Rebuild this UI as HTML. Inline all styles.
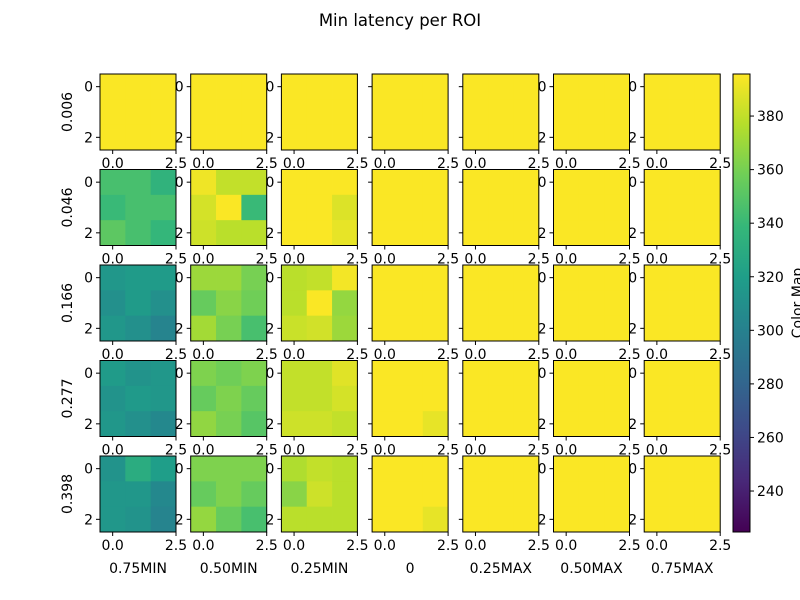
<!DOCTYPE html>
<html><head><meta charset="utf-8"><style>
body{margin:0;background:#fff;}
svg{display:block;font-family:"DejaVu Sans","Liberation Sans",sans-serif;}
</style></head><body>
<svg id="c" width="800" height="600" viewBox="0 0 800 600"></svg>
<script>
const rowLabels=["0.006","0.046","0.166","0.277","0.398"];
const colLabels=["0.75MIN","0.50MIN","0.25MIN","0","0.25MAX","0.50MAX","0.75MAX"];
const Y=395;
const flat=[[Y,Y,Y],[Y,Y,Y],[Y,Y,Y]];
const row0=[flat,flat,flat,flat,flat,flat,flat];
const row1=[[[345,345,335],[340,345,345],[352,345,338]],[[392,380,380],[385,395,340],[383,378,378]],[[395,395,395],[395,395,387],[395,395,390]],flat,flat,flat,flat];
const row2=[[[315,318,318],[310,318,310],[315,310,302]],[[370,370,360],[355,365,358],[372,360,345]],[[378,380,393],[378,395,368],[382,384,370]],flat,flat,flat,flat];
const row3=[[[318,312,315],[312,317,315],[315,310,305]],[[362,358,362],[355,362,355],[367,360,350]],[[380,380,388],[380,380,385],[383,383,380]],[[395,395,395],[395,395,395],[395,395,390]],flat,flat,flat];
const row4=[[[312,330,320],[315,315,305],[315,312,302]],[[362,362,362],[355,362,355],[368,355,345]],[[375,380,378],[365,383,378],[378,378,378]],[[395,395,395],[395,395,395],[395,395,390]],flat,flat,flat];
const grid=[row0,row1,row2,row3,row4];
const vmin=224.7, vmax=395.7;
const cbTicks=[240,260,280,300,320,340,360,380];
const V=[[68,1,84],[72,40,120],[62,74,137],[49,104,142],[38,130,142],[31,158,137],[53,183,121],[110,206,88],[181,222,43],[253,231,37]];
function viridis(v){let t=Math.max(0,Math.min(1,(v-vmin)/(vmax-vmin)))*(V.length-1);let i=Math.min(V.length-2,Math.floor(t)),f=t-i;const c=V[i].map((a,k)=>Math.round(a+(V[i+1][k]-a)*f));return `rgb(${c})`;}
const svg=document.getElementById('c');const NS='http://www.w3.org/2000/svg';
function el(tag,attrs,parent){const e=document.createElementNS(NS,tag);for(const k in attrs)e.setAttribute(k,attrs[k]);(parent||svg).appendChild(e);return e;}
const colX=c=>100+c*90.7, rowY=r=>74+r*95.5, W=76, H=76;
const cbY=v=>532-(v-vmin)/(vmax-vmin)*458;
let t=el('text',{x:400,y:26,'text-anchor':'middle','font-size':16.5});t.textContent='Min latency per ROI';


const showY=[true,true,true,false,false,true,true];
for(let r=0;r<5;r++){for(let c=0;c<7;c++){
 const g=el('g',{});
 
 
 const x0=colX(c),y0=rowY(r),cw=W/3,ch=H/3;
 for(let i=0;i<3;i++)for(let j=0;j<3;j++){
  const cell=el('rect',{x:x0+j*cw,y:y0+i*ch,width:cw+0.4,height:ch+0.4,fill:viridis(grid[r][c][i][j])},g);
  
  
 }
 el('rect',{x:x0,y:y0,width:W,height:H,fill:'none',stroke:'#000','stroke-width':1},g);
 [[0,'0.0'],[2.5,'2.5']].forEach(([v,l])=>{const tx=x0+(v+0.5)*cw;el('line',{x1:tx,y1:y0+H,x2:tx,y2:y0+H+4,stroke:'#000'},g);const tt=el('text',{x:tx,y:y0+H+18,'text-anchor':'middle','font-size':14},g);tt.textContent=l;});
 [[0,'0'],[2,'2']].forEach(([v,l])=>{const ty=y0+(v+0.5)*ch;el('line',{x1:x0-4,y1:ty,x2:x0,y2:ty,stroke:'#000'},g);if(showY[c]){const tt=el('text',{x:x0-7,y:ty+5,'text-anchor':'end','font-size':14},g);tt.textContent=l;}});
}
 const rl=el('text',{x:0,y:0,'text-anchor':'middle','font-size':14,transform:`translate(72,${rowY(r)+H/2}) rotate(-90)`});rl.textContent=rowLabels[r];
 
 
}
for(let c=0;c<7;c++){const cl=el('text',{x:colX(c)+W/2,y:573,'text-anchor':'middle','font-size':14});cl.textContent=colLabels[c];
 
 }
const defs=el('defs',{});const lg=el('linearGradient',{id:'vg',x1:0,y1:1,x2:0,y2:0},defs);
V.forEach((c,i)=>el('stop',{offset:i/(V.length-1),'stop-color':`rgb(${c})`},lg));
const cb=el('rect',{x:733,y:74,width:17,height:458,fill:'url(#vg)',stroke:'#000','stroke-width':1});


cbTicks.forEach(v=>{const y=cbY(v);el('line',{x1:750,y1:y,x2:754,y2:y,stroke:'#000'});const tt=el('text',{x:757,y:y+5,'font-size':14});tt.textContent=v;});
const cbl=el('text',{x:0,y:0,'text-anchor':'middle','font-size':14,transform:'translate(802,303) rotate(-90)'});cbl.textContent='Color Map';


</script>
</body></html>
